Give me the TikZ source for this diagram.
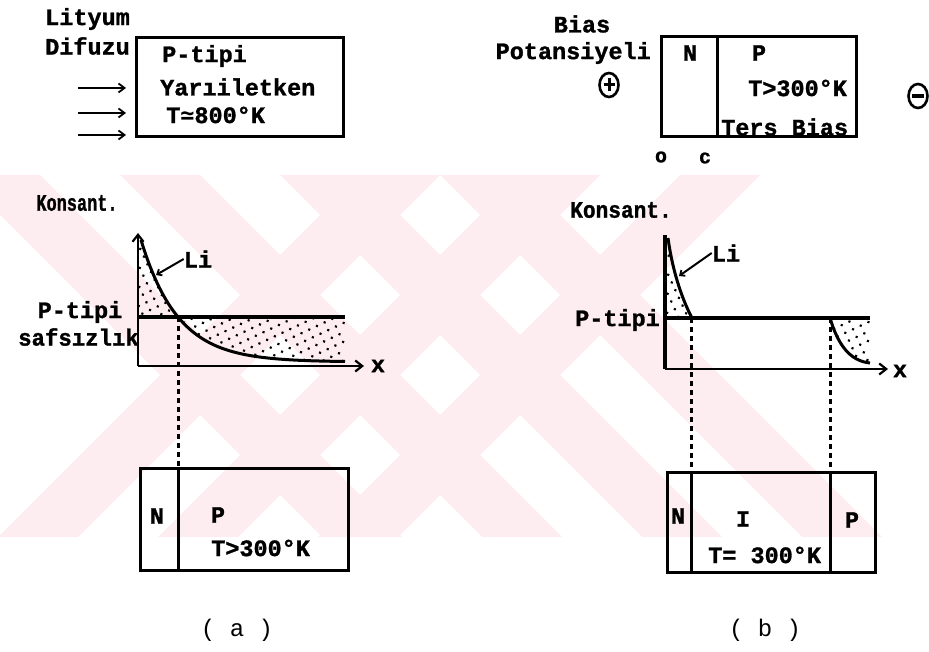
\documentclass[tikz,border=0pt]{standalone}
\usepackage{fontspec}
\newfontfamily\lmono{Liberation Mono}[BoldFeatures={FakeBold=1.2}]
\newfontfamily\dmono{DejaVu Sans Mono}
\usetikzlibrary{arrows.meta,patterns.meta,shapes.geometric}
\definecolor{wm}{RGB}{253,237,240}
\begin{document}
\begin{tikzpicture}[x=1pt,y=-1pt,
 lbl/.style={font=\lmono\bfseries\fontsize{23.5}{26}\selectfont, inner sep=0pt},
 captxt/.style={font=\lmono\fontsize{24}{26}\selectfont, inner sep=0pt},
 small/.style={font=\lmono\bfseries\fontsize{20}{22}\selectfont, inner sep=0pt},
 bx/.style={draw, line width=3pt, inner sep=0pt},
 axl/.style={line width=2.8pt},
 axarrow/.style={axl, -{Straight Barb[length=7pt,width=11pt,line width=2.2pt]}},
 imp/.style={line width=3.4pt},
 dsh/.style={line width=3pt, dash pattern=on 5pt off 4pt},
 lcurve/.style={line width=3pt},
 dotfill/.style={pattern={Dots[radius=1.5pt,distance=8.5pt,angle=25]}},
 leader/.style={line width=2pt, -{Straight Barb[length=4pt,width=7pt,line width=1.8pt]}},
 inarrow/.style={line width=2pt, -{Straight Barb[length=6pt,width=9pt,line width=1.8pt]}},
 sgn/.style={draw, ellipse, line width=2.6pt, minimum width=19pt, minimum height=24pt, inner sep=0pt},
 ]
\useasboundingbox (0,0) rectangle (929,652);
% watermark
\begin{scope}
\clip (0,175) rectangle (929,537);
\foreach \t in {-40,120,280,440}
  \fill[wm] (\t,175) -- (\t+80,175) -- (\t+442,537) -- (\t+362,537) -- cycle;
\foreach \t in {360,520,680}
  \fill[wm] (\t,175) -- (\t+80,175) -- (\t-282,537) -- (\t-362,537) -- cycle;
\end{scope}

% ---------- top (a)
\node[lbl, anchor=west] (lit) at (45,19) {Lityum};
\node[lbl, anchor=west] (dif) at (45,46) {Difuzu};
\node[bx, minimum width=207pt, minimum height=99pt, anchor=north west] (boxA) at (135,36) {};
\node[lbl, anchor=west] (pa1) at (162,56) {P-tipi};
\node[lbl, anchor=west] (pa2) at (160,87) {Yarıiletken};
\node[lbl, anchor=west] (pa3) at (166,115) {T{\dmono\bfseries≃}800°K};
\coordinate (ar1) at (78,88);
\coordinate (ar2) at (78,113);
\coordinate (ar3) at (78,135);
\foreach \a in {ar1,ar2,ar3}
  \draw[inarrow, shorten >=9pt] (\a) -- (\a -| boxA.west);

% ---------- top (b)
\node[lbl] (bias) at (582,24) {Bias};
\node[lbl, anchor=east] (pot) at (651,53) {Potansiyeli};
\node[bx, minimum width=195pt, minimum height=100pt, anchor=north west] (boxB) at (660,35) {};
\coordinate (dB) at (717,35);
\draw[line width=3pt] (dB) -- (dB |- boxB.south);
\node[lbl] (bN) at (690,53) {N};
\node[lbl] (bP) at (759,53) {P};
\node[lbl, anchor=west] (bT) at (748,88) {T>300°K};
\node[lbl, anchor=west] (bTers) at (721,127) {Ters Bias};
\node[sgn] (plus) at (609,85) {};
\draw[line width=3pt] ([xshift=-5.5pt]plus.center) -- ([xshift=5.5pt]plus.center);
\draw[line width=3pt] ([yshift=-6.5pt]plus.center) -- ([yshift=6.5pt]plus.center);
\node[sgn] (minus) at (918,96) {};
\draw[line width=3.6pt] ([xshift=-6pt]minus.center) -- ([xshift=6pt]minus.center);
\node[small] (lo) at (661,157) {o};
\node[small] (lc) at (705,158) {c};

% ---------- graph (a)
\coordinate (Ao) at (138,366);
\coordinate (Ay) at (138,233);
\coordinate (Ax) at (364,366);
\coordinate (AI0) at (138,317);
\coordinate (AI1) at (345,317);
\fill[dotfill] (AI0) -- (138,240) -- plot[domain=141:178,samples=30] (\x,{362-122*exp(-(\x-141)/37.1)}) -- cycle;
\fill[dotfill] (AI1) -- (345,361.5) -- plot[domain=345:178,samples=60] (\x,{362-122*exp(-(\x-141)/37.1)}) -- cycle;
\draw[axarrow] (Ao) -- (Ay);
\draw[axarrow] (Ao) -- (Ax);
\draw[imp] (AI0) -- (AI1);
\draw[lcurve] plot[domain=141:345,samples=90] (\x,{362-122*exp(-(\x-141)/37.1)});
\node[lbl] (konA) at (77,203) {\scalebox{0.72}[1]{Konsant.}};
\node[lbl] (liA) at (198,259) {Li};
\draw[leader] (liA.west) -- (156,275);
\node[lbl] (ptA) at (80,312) {P-tipi};
\node[lbl, anchor=east] (safA) at (139,337) {\scalebox{0.95}[1]{safsızlık}};
\node[lbl] (xA) at (378,366) {x};

% ---------- graph (b)
\coordinate (Bo) at (665,369);
\coordinate (By) at (665,235);
\coordinate (Bx) at (888,369);
\coordinate (BI0) at (665,318);
\coordinate (BI1) at (870,318);
\fill[dotfill] (BI0) -- (665,238) -- (668,238) .. controls (673,275) and (684,303) .. (692,318) -- cycle;
\fill[dotfill] (830,318) .. controls (838,345) and (850,361) .. (870,363) -- (BI1) -- cycle;
\draw[line width=3.4pt] (Bo) -- (By);
\draw[axarrow] (Bo) -- (Bx);
\draw[imp] (BI0) -- (BI1);
\draw[lcurve] (668,238) .. controls (673,275) and (684,303) .. (692,318);
\draw[lcurve] (830,318) .. controls (838,345) and (850,361) .. (870,363);
\node[lbl] (konB) at (621,210) {\scalebox{0.9}[1]{Konsant.}};
\node[lbl] (liB) at (726,253) {Li};
\draw[leader] (liB.west) -- (679,276);
\node[lbl, anchor=east] (ptB) at (660,320) {P-tipi};
\node[lbl] (xB) at (900,371) {x};

% ---------- bottom box (a)
\node[bx, minimum width=208pt, minimum height=102pt, anchor=north west] (cellA) at (139,467) {};
\coordinate (dA) at (178,317);
\draw[dsh] (dA) -- (dA |- cellA.north);
\draw[line width=3pt] (dA |- cellA.north) -- (dA |- cellA.south);
\node[lbl] (aN) at (157,516) {N};
\node[lbl] (aP) at (218,515) {P};
\node[lbl, anchor=west] (aT) at (211,548) {T>300°K};
\node[captxt] (capA) at (237,630) {( a )};

% ---------- bottom box (b)
\node[bx, minimum width=208pt, minimum height=100pt, anchor=north west] (cellB) at (666,471) {};
\coordinate (dB1) at (691,318);
\coordinate (dB2) at (830,318);
\draw[dsh] (dB1) -- (dB1 |- cellB.north);
\draw[dsh] (dB2) -- (dB2 |- cellB.north);
\draw[line width=3pt] (dB1 |- cellB.north) -- (dB1 |- cellB.south);
\draw[line width=3pt] (dB2 |- cellB.north) -- (dB2 |- cellB.south);
\node[lbl] (bbN) at (678,516) {N};
\node[lbl] (bbI) at (743,519) {I};
\node[lbl, anchor=west] (bbT) at (708,555) {T= 300°K};
\node[lbl] (bbP) at (852,520) {P};
\node[captxt] (capB) at (765,630) {( b )};
\end{tikzpicture}
\end{document}
